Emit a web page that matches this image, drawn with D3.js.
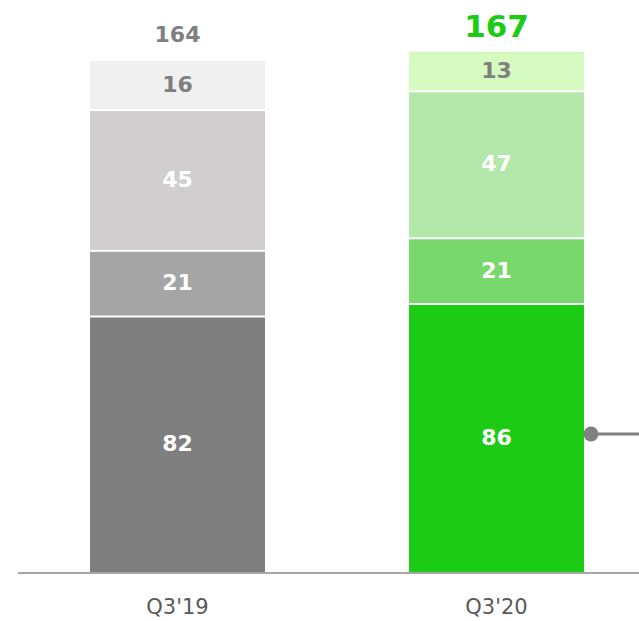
<!DOCTYPE html>
<html>
<head>
<meta charset="utf-8">
<script src="https://cdn.jsdelivr.net/npm/d3@7"></script>
<style>
  body { margin: 0; background: #fff; }
  text { font-family: "DejaVu Sans", Verdana, sans-serif; }
</style>
</head>
<body>
<div id="viz"></div>
<script>
var width = 639;
var height = 621;

// data
var quarters = ["Q3'19", "Q3'20"];
var seg1 = [82, 86];   // bottom segment
var seg2 = [21, 21];
var seg3 = [45, 47];
var seg4 = [16, 13];   // top segment
var totals = [164, 167];

var segments = [seg1, seg2, seg3, seg4];
var colors = [
  ["#7f7f7f", "#1ccc14"],
  ["#a5a5a5", "#78d86c"],
  ["#d0cece", "#b3e8aa"],
  ["#f0f0f0", "#d5fbc0"]
];
var labelColors = ["#ffffff", "#ffffff", "#ffffff", "#7f7f7f"];

var svg = d3.select("#viz")
  .append("svg")
  .attr("width", width)
  .attr("height", height);

var baseY = 573;

var x = d3.scaleBand()
  .domain(quarters)
  .range([18, 656])
  .paddingInner(0.4514)
  .paddingOuter(0.2257);

var y = d3.scaleLinear()
  .domain([0, 164])
  .range([baseY, 60]);

// stacked bars
quarters.forEach(function(q, i) {
  var cum = 0;
  segments.forEach(function(s, k) {
    var v = s[i];
    var y0 = y(cum);
    var y1 = y(cum + v);
    cum += v;
    var top = y1 + 1;
    var bottom = (k == 0) ? y0 : y0 - 1;
    svg.append("rect")
      .attr("x", x(q))
      .attr("y", top)
      .attr("width", x.bandwidth())
      .attr("height", bottom - top)
      .style("fill", colors[k][i]);

    svg.append("text")
      .attr("x", x(q) + x.bandwidth() / 2)
      .attr("y", (y0 + y1) / 2)
      .attr("dy", "0.3em")
      .attr("text-anchor", "middle")
      .style("font-size", "22px")
      .style("font-weight", "bold")
      .style("fill", labelColors[k])
      .text(v);
  });
});

// totals
svg.append("text")
  .attr("x", x(quarters[0]) + x.bandwidth() / 2)
  .attr("y", y(totals[0]) - 18)
  .attr("text-anchor", "middle")
  .style("font-size", "22px")
  .style("font-weight", "bold")
  .style("fill", "#808080")
  .text(totals[0]);

svg.append("text")
  .attr("x", x(quarters[1]) + x.bandwidth() / 2)
  .attr("y", y(totals[1]) - 14)
  .attr("text-anchor", "middle")
  .style("font-size", "31px")
  .style("font-weight", "bold")
  .style("fill", "#1ccc14")
  .text(totals[1]);

// axis
var axis = svg.append("g")
  .attr("transform", "translate(0," + baseY + ")")
  .call(d3.axisBottom(x).tickSize(0).tickPadding(26));
axis.select(".domain")
  .attr("d", "M18,0H656")
  .attr("stroke", "#a6a6a6")
  .attr("stroke-width", 2);
axis.selectAll("text")
  .style("font-family", "'DejaVu Sans', Verdana, sans-serif")
  .style("font-size", "21px")
  .style("fill", "#595959");

// connector on the right
var cx = x(quarters[1]) + x.bandwidth() + 7;
var cy = 434;
svg.append("line")
  .attr("x1", cx)
  .attr("x2", width)
  .attr("y1", cy)
  .attr("y2", cy)
  .attr("stroke", "#808080")
  .attr("stroke-width", 3);
svg.append("circle")
  .attr("cx", cx)
  .attr("cy", cy)
  .attr("r", 7.5)
  .style("fill", "#808080");
</script>
</body>
</html>
